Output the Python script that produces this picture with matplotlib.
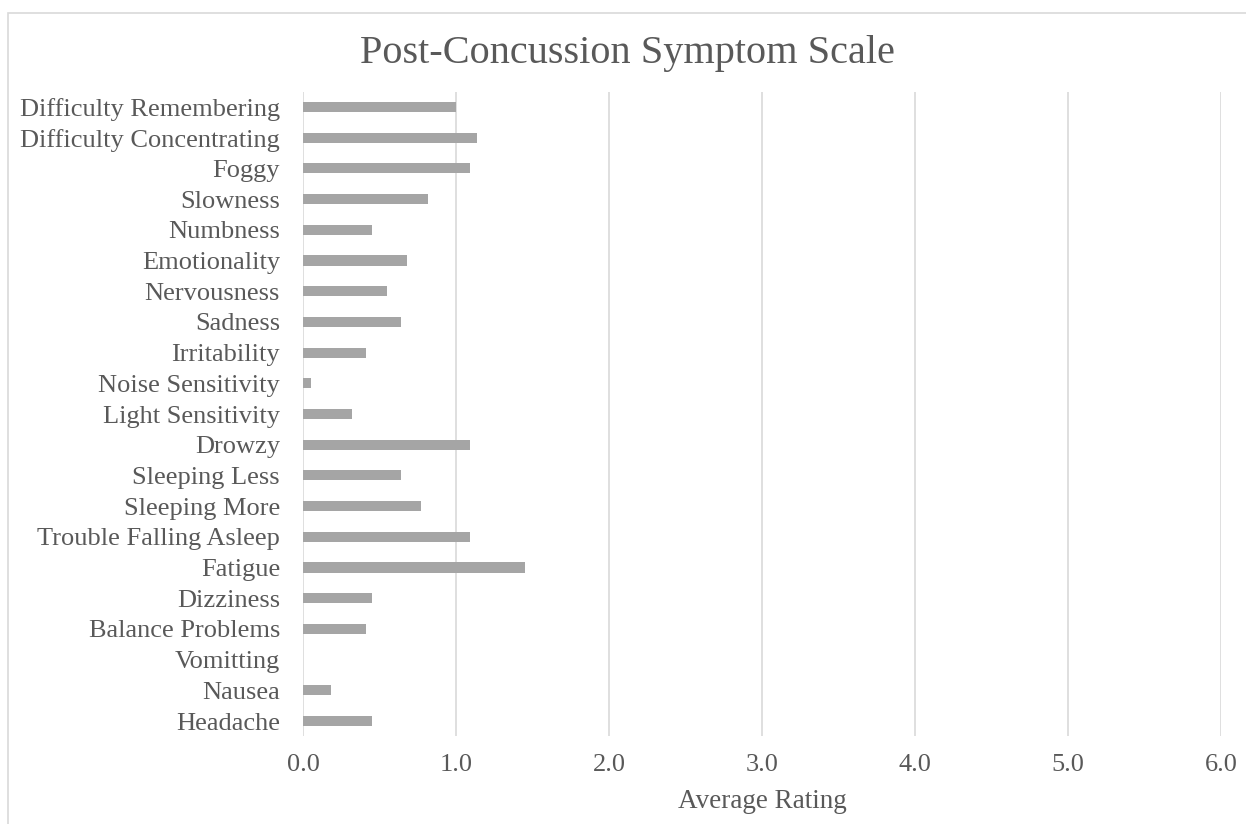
import matplotlib
matplotlib.use("Agg")
import matplotlib.pyplot as plt
from matplotlib.patches import Rectangle

# symptoms listed bottom to top, as they appear on the chart
symptoms = ["Headache", "Nausea", "Vomitting", "Balance Problems", "Dizziness",
            "Fatigue", "Trouble Falling Asleep", "Sleeping More", "Sleeping Less",
            "Drowzy", "Light Sensitivity", "Noise Sensitivity", "Irritability",
            "Sadness", "Nervousness", "Emotionality", "Numbness", "Slowness",
            "Foggy", "Difficulty Concentrating", "Difficulty Remembering"]
ratings = [0.45, 0.18, 0.0, 0.41, 0.45,
           1.45, 1.09, 0.77, 0.64,
           1.09, 0.32, 0.05, 0.41,
           0.64, 0.55, 0.68, 0.45, 0.82,
           1.09, 1.14, 1.00]
xticks = [0, 1, 2, 3, 4, 5, 6]

plt.rcParams['font.family'] = ['Liberation Serif', 'DejaVu Serif']
text_col = '#595959'
grid_col = '#D9D9D9'

fig = plt.figure(figsize=(12.46, 8.24), dpi=100)
ax = fig.add_axes([303 / 1246, 1 - 736.4 / 824, (1221 - 303) / 1246, (736.4 - 91.6) / 824])

# outer chart border
fig.patches.append(Rectangle((8 / 1246, -0.01), 1.02, 1 - 13 / 824 + 0.01, transform=fig.transFigure,
                             fill=False, edgecolor=grid_col, linewidth=1.2))

ax.barh(range(len(symptoms)), ratings, height=0.33, color='#A5A5A5', zorder=3)

ax.set_xlim(0, 6)
ax.set_ylim(-0.5, len(symptoms) - 0.5)
ax.set_xticks(xticks)
ax.set_xticklabels([f"{v:.1f}" for v in xticks])
ax.set_yticks(range(len(symptoms)))
ax.set_yticklabels(symptoms)
ax.tick_params(axis='both', length=0, labelsize=19, labelcolor=text_col)
ax.tick_params(axis='x', pad=13)
ax.tick_params(axis='y', pad=16.5)

ax.grid(axis='x', color=grid_col, linewidth=1.2, zorder=0)
for s in ax.spines.values():
    s.set_visible(False)

ax.set_xlabel("Average Rating", fontsize=19.5, color=text_col, labelpad=9)
fig.text(0.5 * (8 + 1246) / 1246, 1 - 54 / 824, "Post-Concussion Symptom Scale",
         ha='center', va='center', fontsize=29, color=text_col)

fig.savefig("out.png", dpi=100)
